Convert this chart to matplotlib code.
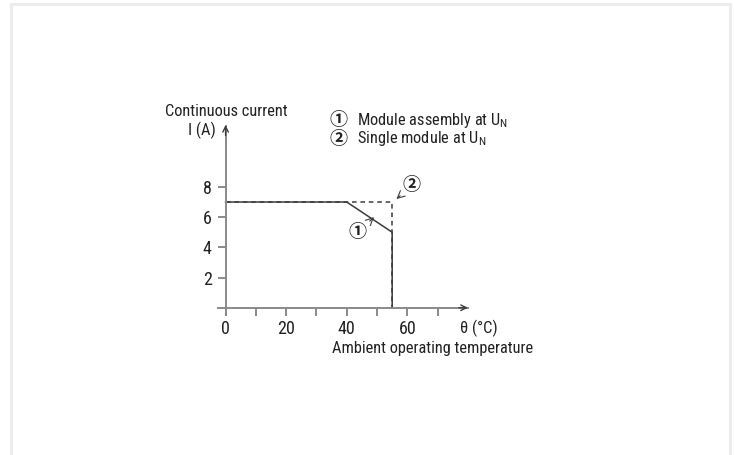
"""Derating curve: continuous current vs ambient operating temperature."""

import matplotlib
matplotlib.use('Agg')
import matplotlib.pyplot as plt
from matplotlib import font_manager as fm
from matplotlib.patches import Rectangle

_have = {f.name for f in fm.fontManager.ttflist}
_cands = ['Roboto Condensed', 'Barlow Semi Condensed', 'Archivo Narrow',
          'PT Sans Narrow', 'Liberation Sans Narrow', 'DejaVu Sans']
MAIN = next(c for c in _cands if c in _have)
FONT = [MAIN, 'Noto Sans CJK JP', 'DejaVu Sans']
plt.rcParams['font.family'] = FONT
plt.rcParams['mathtext.fontset'] = 'custom'
plt.rcParams['mathtext.rm'] = MAIN

AXIS = '#8a8a8a'
LINE = '#3c3c3c'
TXT = '#222222'

# data
temp_assembly = [0, 40, 55, 55]
curr_assembly = [7, 7, 5, 0]
temp_single = [0, 55, 55]
curr_single = [7, 7, 0]
x_ticks = [0, 10, 20, 30, 40, 50, 60, 70]
x_labels = ['0', '', '20', '', '40', '', '60', '']
y_ticks = [2, 4, 6, 8]
legend_marks = ['\u2460', '\u2461']
legend_items = ['Module assembly at U$_\\mathregular{N}$',
                'Single module at U$_\\mathregular{N}$']

fig = plt.figure(figsize=(7.35, 4.55), dpi=100, facecolor='white')
ax = fig.add_axes([0.2966, 0.307, 0.340, 0.415])
ax.set_xlim(-2.5, 80)
ax.set_ylim(-0.5, 12)

ax.plot(temp_single, curr_single, color=LINE, lw=1.1, ls=(0, (3, 2.5)))
ax.plot(temp_assembly, curr_assembly, color=LINE, lw=1.1)

for s in ('top', 'right'):
    ax.spines[s].set_visible(False)
for s in ('left', 'bottom'):
    ax.spines[s].set_color(AXIS)
    ax.spines[s].set_linewidth(1.4)
ax.spines['left'].set_position(('data', 0))
ax.spines['bottom'].set_position(('data', 0))

ax.set_xticks(x_ticks)
ax.set_xticklabels(x_labels)
ax.set_yticks(y_ticks)
ax.tick_params(colors=AXIS, labelcolor=TXT, length=6, width=1.4,
               labelsize=13, pad=4)
ax.tick_params(axis='x', pad=3)

# arrow heads on the axes
ax.annotate('', xy=(80, 0), xytext=(77, 0), annotation_clip=False,
            arrowprops=dict(arrowstyle='->', color=LINE, lw=1.0, shrinkA=0, shrinkB=0))
ax.annotate('', xy=(0, 12.1), xytext=(0, 11.4), annotation_clip=False,
            arrowprops=dict(arrowstyle='->', color=LINE, lw=1.0, shrinkA=0, shrinkB=0))

# curve markers
ax.annotate(legend_marks[0], xy=(49.0, 6.0), xytext=(43.7, 5.0), ha='center',
            va='center', fontsize=13, color=TXT, fontweight='bold',
            arrowprops=dict(arrowstyle='->', color=LINE, lw=0.8, shrinkA=6, shrinkB=0))
ax.annotate(legend_marks[1], xy=(56.4, 7.2), xytext=(61.5, 8.1), ha='center',
            va='center', fontsize=13, color=TXT, fontweight='bold',
            arrowprops=dict(arrowstyle='->', color=LINE, lw=0.8, shrinkA=6, shrinkB=0))

# axis titles and legend
fs = 11.8
fig.text(165 / 735, 1 - 111 / 455, 'Continuous current', fontsize=fs,
         color=TXT, va='center', ha='left')
fig.text(188 / 735, 1 - 130 / 455, 'I (A)', fontsize=fs,
         color=TXT, va='center', ha='left')
fig.text(460 / 735, 1 - 328 / 455, '\u03b8 (\u00b0C)', fontsize=fs,
         color=TXT, va='center', ha='left')
fig.text(332 / 735, 1 - 348 / 455, 'Ambient operating temperature', fontsize=fs,
         color=TXT, va='center', ha='left')
for i, (mark, item) in enumerate(zip(legend_marks, legend_items)):
    y = 1 - (120 + 19 * i) / 455
    fig.text(339 / 735, y, mark, fontsize=13, color=TXT, fontweight='bold',
             va='center', ha='center')
    fig.text(357 / 735, y, item, fontsize=fs, color=TXT, va='center', ha='left')

# light page frame
fig.patches.append(Rectangle((10.5 / 735, -0.1), 719 / 735, 1.1 - 4.5 / 455,
                             transform=fig.transFigure, fill=False,
                             edgecolor='#ececec', lw=2.2))

fig.savefig('out.png', dpi=100, facecolor='white')
